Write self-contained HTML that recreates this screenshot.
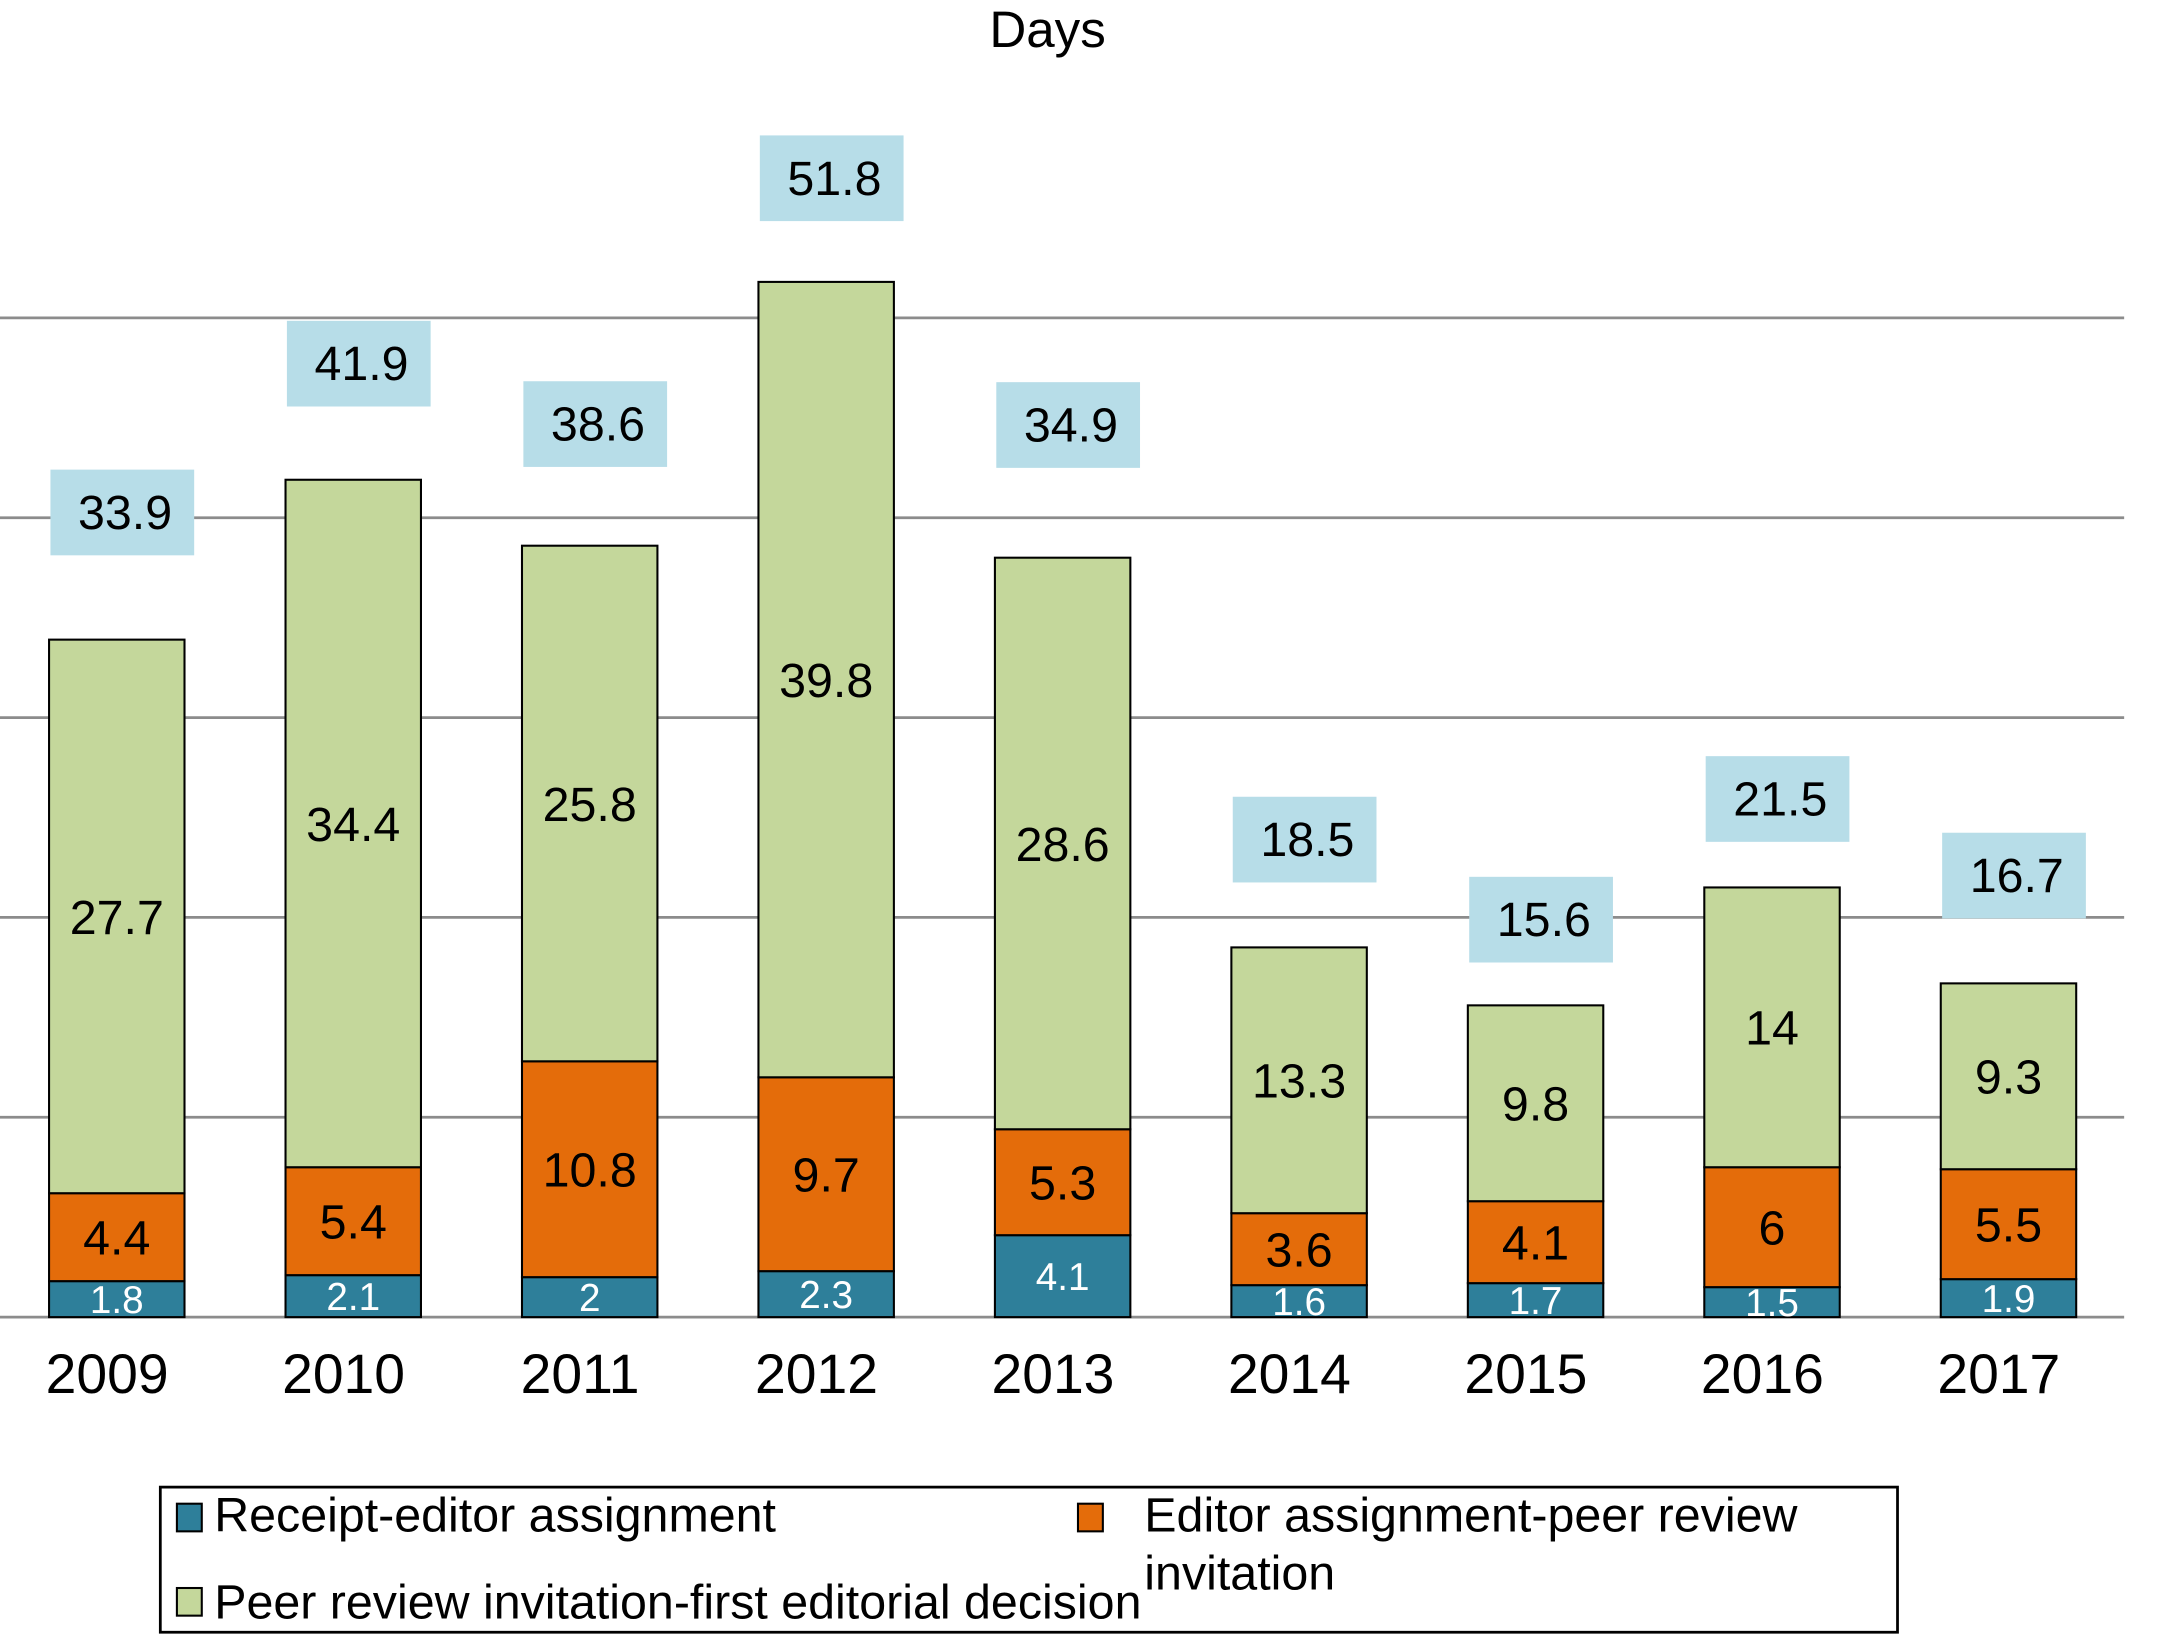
<!DOCTYPE html>
<html><head><meta charset="utf-8"><style>
html,body{margin:0;padding:0;background:#fff}
svg{display:block}
text{font-family:"Liberation Sans",Arial,sans-serif}
</style></head><body>
<svg id="chart" width="2167" height="1635" viewBox="0 0 1568 1183" preserveAspectRatio="none" xmlns="http://www.w3.org/2000/svg">
<text x="758" y="34" font-size="37" text-anchor="middle">Days</text>
<g id="grid"></g>
<g id="bars"></g>
<g id="xlabels"></g>
<g>
<rect x="116" y="1076" width="1257" height="105" fill="#fff" stroke="#000" stroke-width="2"/>
<g>
<rect x="128" y="1088" width="18" height="20" fill="#2e7f9a" stroke="#000" stroke-width="1.5"/>
<text x="155" y="1108" font-size="35">Receipt-editor assignment</text></g>
<g>
<rect x="780" y="1088" width="18" height="20" fill="#e46c0a" stroke="#000" stroke-width="1.5"/>
<text x="828" y="1108" font-size="35">Editor assignment-peer review</text>
<text x="828" y="1150" font-size="35">invitation</text></g>
<g>
<rect x="128" y="1149" width="18" height="20" fill="#c4d79b" stroke="#000" stroke-width="1.5"/>
<text x="155" y="1171" font-size="35">Peer review invitation-first editorial decision</text></g>
</g>
</svg>
<script>
const years = ['2009','2010','2011','2012','2013','2014','2015','2016','2017'];
const receipt = [1.8,2.1,2,2.3,4.1,1.6,1.7,1.5,1.9];
const editorAssign = [4.4,5.4,10.8,9.7,5.3,3.6,4.1,6,5.5];
const peerReview = [27.7,34.4,25.8,39.8,28.6,13.3,9.8,14,9.3];
const totals = [33.9,41.9,38.6,51.8,34.9,18.5,15.6,21.5,16.7];
const gridTicks = [0,10,20,30,40,50];
// layout only: vertical gap between bar top and total label box (px)
const labelGap = [61,53,57,44,65,47,31,33,47];

const NS='http://www.w3.org/2000/svg';
const baseY=953, pxPerDay=14.46, x0=84.5, step=171.1, bw=98;
const y = v => baseY - v*pxPerDay;
const xc = i => x0 + i*step;
function mk(tag, attrs, parent){const e=document.createElementNS(NS,tag);for(const k in attrs)e.setAttribute(k,attrs[k]);parent.appendChild(e);return e;}
const grid=document.getElementById('grid'), bars=document.getElementById('bars'), xl=document.getElementById('xlabels');
gridTicks.forEach(t=>{
  const l=mk('line',{x1:0,x2:1537,y1:y(t),y2:y(t),stroke:'#8c8c8c','stroke-width':2},grid);
  
  
});
const series=[{d:receipt,c:'#2e7f9a',tc:'#fff',n:'receipt'},{d:editorAssign,c:'#e46c0a',tc:'#000',n:'editor'},{d:peerReview,c:'#c4d79b',tc:'#000',n:'peer'}];
years.forEach((yr,i)=>{
  let acc=0;
  series.forEach(s=>{
    const v=s.d[i], top=y(acc+v), bot=y(acc);
    const r=mk('rect',{x:xc(i)-bw/2,y:top,width:bw,height:bot-top,fill:s.c,stroke:'#000','stroke-width':1.5},bars);
    
    
    const fs = s.n==='receipt'?28:35;
    const t=mk('text',{x:xc(i),y:(top+bot)/2+fs*0.36,'font-size':fs,'text-anchor':'middle',fill:s.tc},bars);
    t.textContent=v;
    
    
    acc+=v;
  });
  const topY=y(acc), bh=62, bwid=104, by=topY-labelGap[i]-bh;
  const b=mk('rect',{x:xc(i)-bwid/2+4,y:by,width:bwid,height:bh,fill:'#b7dde8'},bars);
  
  
  const tt=mk('text',{x:xc(i)+6,y:by+bh/2+12,'font-size':35,'text-anchor':'middle'},bars);
  tt.textContent=totals[i];
  
  
  const yl=mk('text',{x:xc(i)-7,y:1008,'font-size':40,'text-anchor':'middle'},xl);
  yl.textContent=yr;
  
  
});
</script>
</body></html>
